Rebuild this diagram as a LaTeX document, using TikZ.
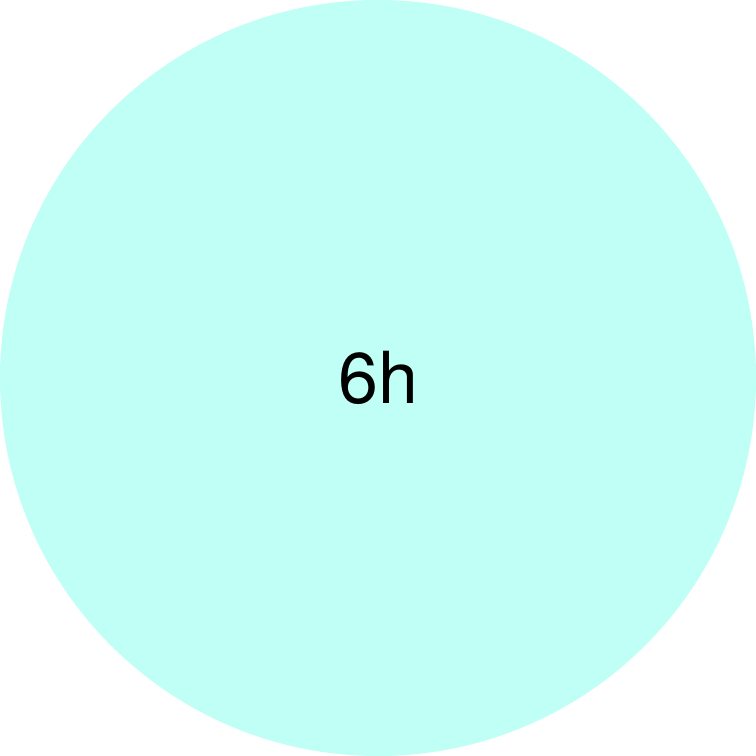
\documentclass[tikz,border=0pt]{standalone}
\usepackage{fontspec}
\setmainfont{TeX Gyre Heros}
\usetikzlibrary{positioning}
\definecolor{dialfill}{HTML}{C0FFF6}

\begin{document}
\begin{tikzpicture}[
 dial/.style={circle,fill=dialfill,minimum size=10cm,inner sep=0pt,
  font=\fontsize{27}{30}\selectfont}]
\useasboundingbox (-5,-5) rectangle (5,5);
\node[dial] (hours) at (0,0) {6h};
\end{tikzpicture}
\end{document}
